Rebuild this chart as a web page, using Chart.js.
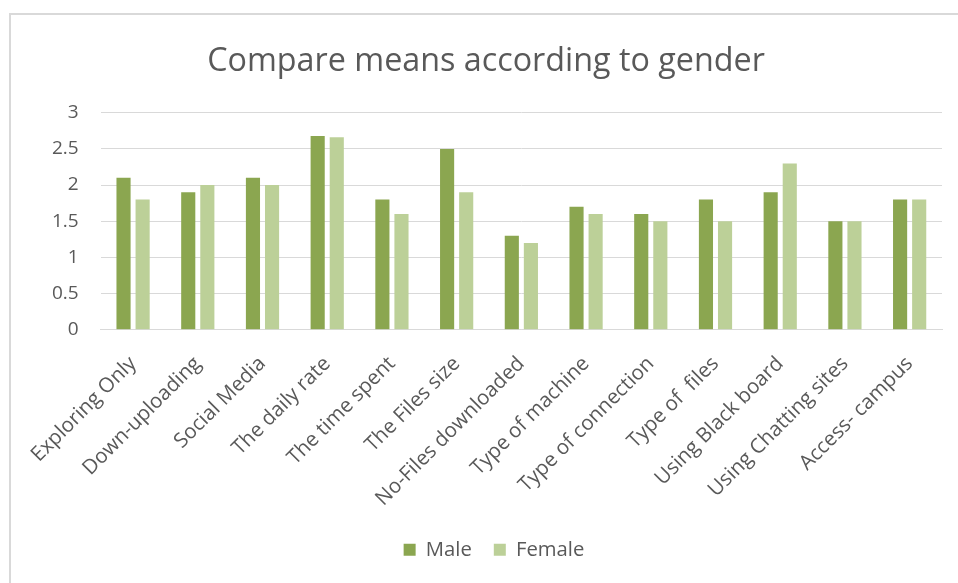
<!DOCTYPE html>
<html>
<head>
<meta charset="utf-8">
<script src="https://cdn.jsdelivr.net/npm/chart.js@4.4.1/dist/chart.umd.min.js"></script>
<style>
  html, body { margin: 0; padding: 0; background: #fff; }
  #wrap { position: relative; width: 958px; height: 583px; }
  #frame {
    position: absolute; left: 9px; top: 13px; right: -10px; bottom: -10px;
    border-left: 2px solid #d9d9d9; border-top: 2px solid #d9d9d9;
  }
  canvas { position: absolute; left: 0; top: 0; }
</style>
</head>
<body>
<div id="wrap">
  <div id="frame"></div>
  <canvas id="myChart" width="958" height="583"></canvas>
</div>
<script>
  const categories = [
    "Exploring Only",
    "Down-uploading",
    "Social Media",
    "The daily rate",
    "The time spent",
    "The Files size",
    "No-Files downloaded",
    "Type of machine",
    "Type of connection",
    "Type of  files",
    "Using Black board",
    "Using Chatting sites",
    "Access- campus",
  ];
  const maleValues = [2.1, 1.9, 2.1, 2.68, 1.8, 2.5, 1.3, 1.7, 1.6, 1.8, 1.9, 1.5, 1.8];
  const femaleValues = [1.8, 2.0, 2.0, 2.66, 1.6, 1.9, 1.2, 1.6, 1.5, 1.5, 2.3, 1.5, 1.8];
  const yTicks = [0, 0.5, 1, 1.5, 2, 2.5, 3];

  const font = "'Open Sans', 'Noto Sans', sans-serif";
  const textColor = "#595959";

  // nudge the legend a little to the right, like the original
  const legendShift = {
    id: "legendShift",
    afterLayout(chart) {
      chart.legend.left += 8;
      chart.legend.right += 8;
    },
  };

  var ctx = document.getElementById("myChart").getContext("2d");
  var chart = new Chart(ctx, {
    type: "bar",
    data: {
      labels: categories,
      datasets: [
        {
          label: "Male",
          backgroundColor: "#8ba650",
          data: maleValues,
          barPercentage: 0.74,
          categoryPercentage: 0.59,
        },
        {
          label: "Female",
          backgroundColor: "#bcd098",
          data: femaleValues,
          barPercentage: 0.74,
          categoryPercentage: 0.59,
        },
      ],
    },
    plugins: [legendShift],
    options: {
      responsive: false,
      animation: false,
      layout: {
        padding: { left: 30, right: 16, top: 42, bottom: 13 },
      },
      plugins: {
        title: {
          display: true,
          text: "Compare means according to gender",
          color: textColor,
          font: { family: font, size: 32.3, weight: "normal" },
          padding: { top: 0, bottom: 32 },
        },
        legend: {
          position: "bottom",
          labels: {
            color: textColor,
            font: { family: font, size: 20.3 },
            boxWidth: 12,
            boxHeight: 12,
            padding: 22,
          },
        },
        tooltip: { enabled: false },
      },
      scales: {
        x: {
          grid: { display: false },
          border: { color: "#d9d9d9" },
          afterFit: (scale) => {
            scale.height = 188; // leave room between labels and legend
          },
          ticks: {
            color: textColor,
            font: { family: font, size: 20.5 },
            minRotation: 45,
            maxRotation: 45,
            padding: 14,
          },
        },
        y: {
          min: 0,
          max: 3,
          afterBuildTicks: (axis) => {
            axis.ticks = yTicks.map((v) => ({ value: v }));
          },
          grid: { color: "#d9d9d9", drawTicks: false },
          border: { display: false },
          ticks: {
            color: textColor,
            font: { family: font, size: 19 },
            padding: 22,
            callback: (v) => String(v),
          },
        },
      },
    },
  });
</script>
</body>
</html>
